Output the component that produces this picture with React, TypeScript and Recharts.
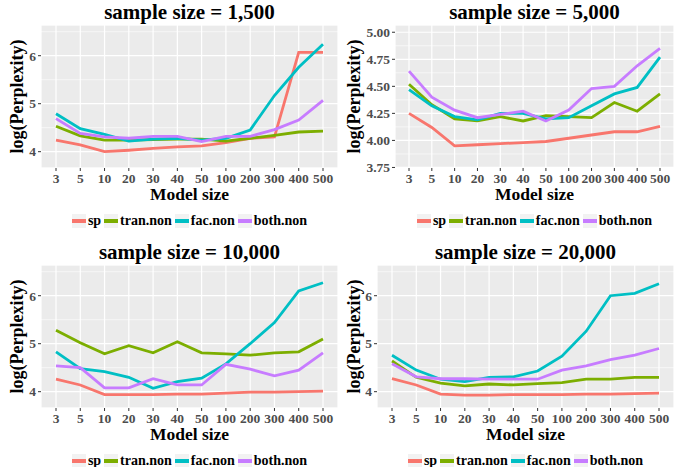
import React from 'react';
import { LineChart, Line, XAxis, YAxis, CartesianGrid, Label } from 'recharts';

const modelSizes = ['3', '5', '10', '20', '30', '40', '50', '100', '200', '300', '400', '500'];
const seriesKeys = ['sp', 'tran.non', 'fac.non', 'both.non'];
const seriesColors = ['#F8766D', '#7CAE00', '#00BFC4', '#C77CFF'];

// sample size = 1,500
const sp1500 = [4.24, 4.14, 4.0, 4.03, 4.07, 4.1, 4.12, 4.19, 4.28, 4.31, 6.07, 6.07];
const tran1500 = [4.53, 4.33, 4.24, 4.24, 4.25, 4.26, 4.26, 4.22, 4.28, 4.34, 4.41, 4.43];
const fac1500 = [4.79, 4.48, 4.36, 4.22, 4.26, 4.28, 4.24, 4.28, 4.45, 5.17, 5.76, 6.24];
const both1500 = [4.69, 4.38, 4.31, 4.28, 4.32, 4.32, 4.21, 4.32, 4.32, 4.46, 4.66, 5.07];

// sample size = 5,000
const sp5000 = [4.25, 4.12, 3.95, 3.96, 3.97, 3.98, 3.99, 4.02, 4.05, 4.08, 4.08, 4.13];
const tran5000 = [4.52, 4.33, 4.2, 4.18, 4.22, 4.18, 4.23, 4.22, 4.21, 4.35, 4.27, 4.43];
const fac5000 = [4.47, 4.32, 4.22, 4.19, 4.25, 4.25, 4.2, 4.21, 4.32, 4.43, 4.49, 4.77];
const both5000 = [4.64, 4.4, 4.28, 4.21, 4.24, 4.27, 4.18, 4.28, 4.48, 4.5, 4.69, 4.85];

// sample size = 10,000
const sp10000 = [4.26, 4.14, 3.94, 3.94, 3.94, 3.95, 3.95, 3.97, 3.99, 3.99, 4.0, 4.01];
const tran10000 = [5.28, 5.02, 4.79, 4.96, 4.81, 5.04, 4.81, 4.79, 4.76, 4.81, 4.83, 5.1];
const fac10000 = [4.83, 4.48, 4.42, 4.3, 4.07, 4.21, 4.28, 4.58, 5.0, 5.44, 6.1, 6.27];
const both10000 = [4.54, 4.5, 4.08, 4.08, 4.27, 4.14, 4.14, 4.57, 4.47, 4.33, 4.45, 4.81];

// sample size = 20,000
const sp20000 = [4.27, 4.14, 3.95, 3.93, 3.93, 3.94, 3.94, 3.94, 3.95, 3.95, 3.96, 3.97];
const tran20000 = [4.64, 4.3, 4.18, 4.12, 4.16, 4.14, 4.17, 4.19, 4.26, 4.26, 4.3, 4.3];
const fac20000 = [4.76, 4.45, 4.26, 4.21, 4.3, 4.31, 4.43, 4.74, 5.26, 6.0, 6.05, 6.25];
const both20000 = [4.58, 4.31, 4.27, 4.27, 4.26, 4.26, 4.26, 4.45, 4.54, 4.67, 4.76, 4.9];

const wideTicks = [4, 5, 6];
const wideMinor = [4.5, 5.5, 6.5];
const narrowTicks = [3.75, 4.0, 4.25, 4.5, 4.75, 5.0];
const narrowMinor = [3.875, 4.125, 4.375, 4.625, 4.875];

const FONT = '"Liberation Serif", "Times New Roman", serif';

function buildRows(series: number[][]) {
  return modelSizes.map((size, i) => {
    const row: Record<string, string | number> = { size };
    seriesKeys.forEach((k, j) => {
      row[k] = series[j][i];
    });
    return row;
  });
}

interface PanelProps {
  title: string;
  series: number[][];
  left: number;
  top: number;
  width: number;
  plotTop: number;
  yAxisWidth: number;
  marginRight: number;
  yLabelX: number;
  xPad: number;
  yDomain: [number, number];
  yTicks: number[];
  yMinor: number[];
  decimals: number;
}

function Panel(p: PanelProps) {
  const data = buildRows(p.series);
  const chartHeight = p.plotTop + 143 + 35;
  const plotW = p.width - p.marginRight - p.yAxisWidth;
  const tickStyle = { fill: '#4D4D4D', fontSize: 13.5, fontWeight: 700, fontFamily: FONT };

  return (
    <div style={{ position: 'absolute', left: p.left, top: p.top, width: p.width, height: 233 }}>
      <div
        style={{
          position: 'absolute',
          left: p.yAxisWidth,
          width: plotW,
          top: p.plotTop - 25,
          lineHeight: '24px',
          textAlign: 'center',
          fontFamily: FONT,
          fontWeight: 700,
          fontSize: 21,
          color: '#000',
          whiteSpace: 'nowrap',
        }}
      >
        {p.title}
      </div>
      <div style={{ position: 'absolute', left: 0, top: 0 }}>
        <LineChart
          width={p.width}
          height={chartHeight}
          data={data}
          margin={{ top: p.plotTop, right: p.marginRight, left: 0, bottom: 0 }}
        >
          <CartesianGrid fill="#EBEBEB" stroke="#FFFFFF" strokeWidth={1.2} />
          <CartesianGrid yAxisId="minor" vertical={false} stroke="#FFFFFF" strokeWidth={0.6} />
          <XAxis
            dataKey="size"
            type="category"
            interval={0}
            padding={{ left: p.xPad, right: p.xPad }}
            height={35}
            axisLine={false}
            tickSize={3}
            tickMargin={2}
            tickLine={{ stroke: '#333333' }}
            tick={tickStyle}
          >
            <Label
              value="Model size"
              position="insideBottom"
              offset={3}
              style={{ fontFamily: FONT, fontWeight: 700, fontSize: 17.5, fill: '#000' }}
            />
          </XAxis>
          <YAxis
            type="number"
            width={p.yAxisWidth}
            domain={p.yDomain}
            ticks={p.yTicks}
            allowDataOverflow
            axisLine={false}
            tickSize={3}
            tickMargin={2}
            tickLine={{ stroke: '#333333' }}
            tick={tickStyle}
            tickFormatter={(v: number) => v.toFixed(p.decimals)}
          >
            <Label
              value="log(Perplexity)"
              angle={-90}
              position="insideLeft"
              offset={p.yLabelX}
              style={{ textAnchor: 'middle', fontFamily: FONT, fontWeight: 700, fontSize: 18, fill: '#000' }}
            />
          </YAxis>
          <YAxis yAxisId="minor" type="number" hide domain={p.yDomain} ticks={p.yMinor} allowDataOverflow />
          {seriesKeys.map((k, j) => (
            <Line
              key={k}
              dataKey={k}
              type="linear"
              stroke={seriesColors[j]}
              strokeWidth={2.8}
              dot={false}
              isAnimationActive={false}
            />
          ))}
        </LineChart>
      </div>
      <div
        style={{
          position: 'absolute',
          left: p.yAxisWidth,
          width: plotW,
          top: p.plotTop + 143 + 43,
          height: 20,
          display: 'flex',
          justifyContent: 'center',
          alignItems: 'center',
          fontFamily: FONT,
          fontWeight: 700,
          fontSize: 14,
          color: '#000',
          whiteSpace: 'nowrap',
        }}
      >
        {seriesKeys.map((k, j) => (
          <div key={k} style={{ display: 'flex', alignItems: 'center', marginRight: j < 3 ? 3 : 0 }}>
            <div
              style={{
                width: 14,
                height: 14,
                background: '#F2F2F2',
                display: 'flex',
                alignItems: 'center',
              }}
            >
              <div style={{ width: 14, height: 4, background: seriesColors[j] }} />
            </div>
            <span style={{ marginLeft: 2 }}>{k}</span>
          </div>
        ))}
      </div>
    </div>
  );
}

export default function App() {
  return (
    <div style={{ position: 'absolute', left: 0, top: 0, width: 683, height: 467, background: '#fff', overflow: 'hidden' }}>
      <Panel
        title="sample size = 1,500"
        series={[sp1500, tran1500, fac1500, both1500]}
        left={0}
        top={0}
        width={341}
        plotTop={25}
        yAxisWidth={41}
        marginRight={3}
        yLabelX={17}
        xPad={15}
        yDomain={[3.66, 6.64]}
        yTicks={wideTicks}
        yMinor={wideMinor}
        decimals={0}
      />
      <Panel
        title="sample size = 5,000"
        series={[sp5000, tran5000, fac5000, both5000]}
        left={341}
        top={0}
        width={342}
        plotTop={25}
        yAxisWidth={54}
        marginRight={9}
        yLabelX={13}
        xPad={14}
        yDomain={[3.745, 5.067]}
        yTicks={narrowTicks}
        yMinor={narrowMinor}
        decimals={2}
      />
      <Panel
        title="sample size = 10,000"
        series={[sp10000, tran10000, fac10000, both10000]}
        left={0}
        top={233}
        width={341}
        plotTop={32}
        yAxisWidth={41}
        marginRight={3}
        yLabelX={17}
        xPad={15}
        yDomain={[3.66, 6.64]}
        yTicks={wideTicks}
        yMinor={wideMinor}
        decimals={0}
      />
      <Panel
        title="sample size = 20,000"
        series={[sp20000, tran20000, fac20000, both20000]}
        left={341}
        top={233}
        width={342}
        plotTop={32}
        yAxisWidth={36}
        marginRight={9}
        yLabelX={13}
        xPad={15}
        yDomain={[3.66, 6.64]}
        yTicks={wideTicks}
        yMinor={wideMinor}
        decimals={0}
      />
    </div>
  );
}
